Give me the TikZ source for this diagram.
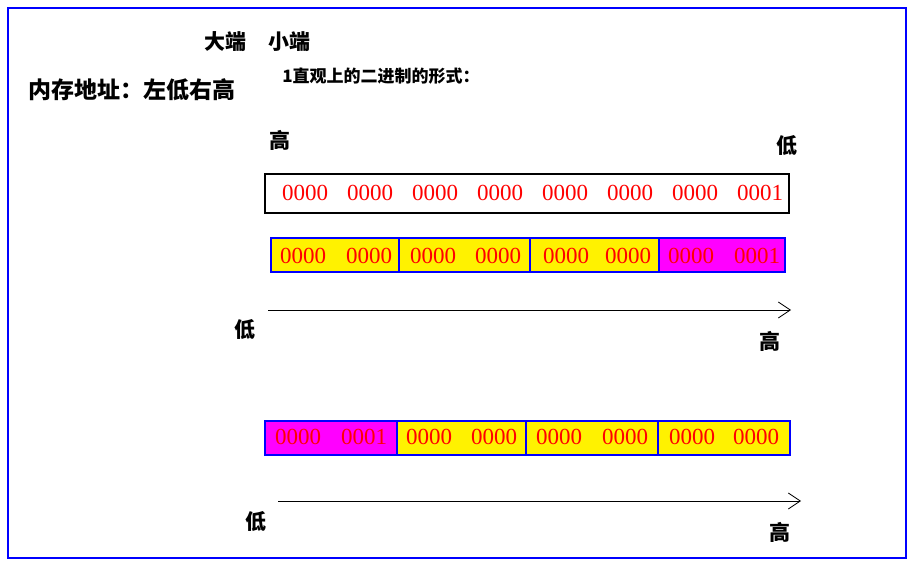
\documentclass[tikz,border=0pt]{standalone}
\usepackage{fontspec}
\setmainfont{Liberation Serif}
\newfontfamily\cjk{Noto Sans CJK SC}
\usetikzlibrary{positioning}
\usetikzlibrary{arrows.meta}
\definecolor{pinkbox}{RGB}{255,0,255}
\tikzset{
  lbl/.style={font=\cjk\bfseries\fontsize{21}{24}\selectfont, inner sep=0pt},
  bits/.style={font=\fontsize{23}{24}\selectfont, text=red, inner sep=0pt},
  ybox/.style={draw=blue, fill=yellow, line width=1.2pt},
  mbox/.style={draw=blue, fill=pinkbox, line width=1.2pt},
  axis/.style={draw, -{Straight Barb[length=12pt,width=16pt]}, line width=0.8pt}
}
\begin{document}
\begin{tikzpicture}[x=1pt,y=-1pt]
  \useasboundingbox[fill=white] (0,0) rectangle (918,572);
  \draw[blue, line width=1.5pt] (8,8) rectangle (906,558);
  % titles
  \node[lbl](big) at (225,42){大端};
  \node[lbl](little) at (289,42){小端};
  \node[lbl, font=\cjk\bfseries\fontsize{23}{24}\selectfont](mem) at (132,90){内存地址：左低右高};
  \node[lbl, font=\cjk\bfseries\fontsize{17}{18}\selectfont](form) at (381,76){1直观上的二进制的形式：};
  \node[lbl](hi0) at (280,140){高};
  \node[lbl](lo0) at (787,146){低};
  % plain binary
  \draw[line width=1.2pt] (265,174) rectangle (789,213);
  \foreach \i in {0,...,6}
    \node[bits] (b\i) at (305+65*\i,193){0000};
  \node[bits] (b7) at (760,193){0001};
  % first row
  \draw[ybox] (271,238) rectangle (399,272);
  \draw[ybox] (399,238) rectangle (530,272);
  \draw[ybox] (530,238) rectangle (659,272);
  \draw[mbox] (659,238) rectangle (785,272);
  \foreach \x in {303,369,433,498,566,628} \node[bits] at (\x,256){0000};
  \node[bits](r1a) at (691,256){0000};
  \node[bits](r1b) at (757,256){0001};
  \coordinate (a1s) at (268,310);
  \coordinate (a1e) at (791,310);
  \path[axis] (a1s) -- (a1e);
  \node[lbl](lo1) at (245,330){低};
  \node[lbl](hi1) at (770,341){高};
  % second row
  \draw[mbox] (265,421) rectangle (397,455);
  \draw[ybox] (397,421) rectangle (526,455);
  \draw[ybox] (526,421) rectangle (658,455);
  \draw[ybox] (658,421) rectangle (790,455);
  \node[bits](r2a) at (298,437){0000};
  \node[bits](r2b) at (364,437){0001};
  \foreach \x in {429,494,559,625,692,756} \node[bits] at (\x,437){0000};
  \coordinate (a2s) at (278,501);
  \coordinate (a2e) at (801,501);
  \path[axis] (a2s) -- (a2e);
  \node[lbl](lo2) at (256,522){低};
  \node[lbl](hi2) at (780,532){高};
\end{tikzpicture}
\end{document}
